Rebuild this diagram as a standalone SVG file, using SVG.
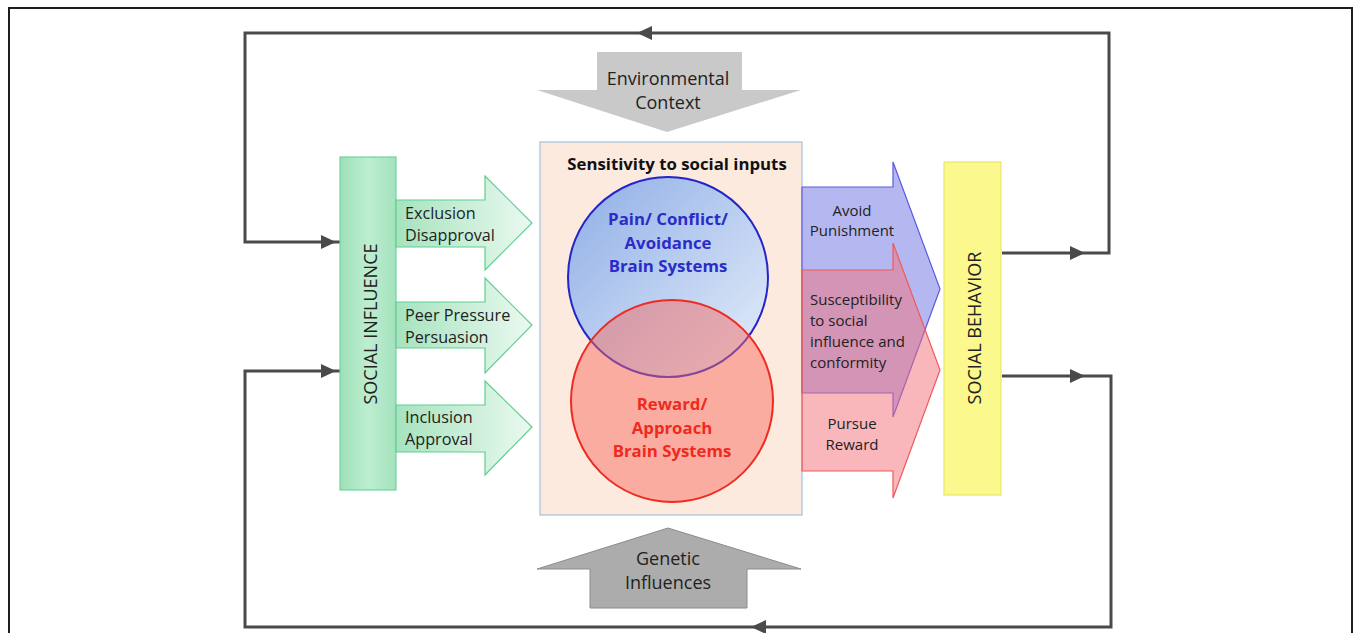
<svg xmlns="http://www.w3.org/2000/svg" width="1354" height="633" viewBox="0 0 1354 633">
<defs>
<style>
text{font-family:"Open Sans","Liberation Sans",sans-serif;fill:#222;}
.lbl{font-size:16.2px;}
.rl{font-size:15px;}
.gl{font-size:18px;text-anchor:middle;}
.bar{font-size:18px;text-anchor:middle;}
.conn{fill:none;stroke:#4a4a4a;stroke-width:3;}
.frame{fill:none;stroke:#1e1e1e;}
.garrow{fill:url(#gGreen);stroke:#5fcf8f;stroke-width:1.2;}
.big{font-size:16.8px;font-weight:bold;text-anchor:middle;}
</style>
<linearGradient id="gGreen" x1="0" y1="0" x2="1" y2="0">
<stop offset="0" stop-color="#a6e3be"/>
<stop offset="1" stop-color="#eaf9f0"/>
</linearGradient>
<linearGradient id="gBar" x1="0" y1="0" x2="1" y2="0">
<stop offset="0" stop-color="#9ee0b8"/>
<stop offset="0.5" stop-color="#bdeed0"/>
<stop offset="1" stop-color="#a4e2bd"/>
</linearGradient>
<linearGradient id="gBlue" x1="0" y1="0" x2="1" y2="1">
<stop offset="0" stop-color="#8eaee6"/>
<stop offset="1" stop-color="#e6eefa"/>
</linearGradient>
</defs>
<rect width="1354" height="633" fill="#ffffff"/>
<g id="frame">
<path class="frame" d="M9,640 V8 H1352 V640" stroke-width="2"/>
</g>
<g id="connectors">
<path class="conn" d="M340,242 H245 V33 H1109 V253 H1002"/>
<path class="conn" d="M340,371 H245 V627 H1111 V376 H1002"/>
<polygon points="336,242 321,235 321,249" fill="#4a4a4a"/>
<polygon points="336,371 321,364 321,378" fill="#4a4a4a"/>
<polygon points="1085,253 1070,246 1070,260" fill="#4a4a4a"/>
<polygon points="1085,376 1070,369 1070,383" fill="#4a4a4a"/>
<polygon points="637,33 652,26 652,40" fill="#4a4a4a"/>
<polygon points="751,627 766,620 766,634" fill="#4a4a4a"/>
</g>
<g id="env-context">
<polygon points="597,52 742,52 742,90 801,90 667,132 537,90 597,90" fill="#c9c9c9"/>
<text class="gl" x="668" y="85">Environmental</text>
<text class="gl" x="668" y="109">Context</text>
</g>
<g id="genetic">
<polygon points="668,528 801,569 747,569 747,608 590,608 590,569 537,569" fill="#acacac" stroke="#8c8c8c" stroke-width="1"/>
<text class="gl" x="668" y="565">Genetic</text>
<text class="gl" x="668" y="589">Influences</text>
</g>
<g id="social-influence">
<rect x="340" y="157" width="56" height="333" fill="url(#gBar)" stroke="#6fd49a" stroke-width="1.2"/>
<text class="bar" x="377" y="324" transform="rotate(-90 377 324)">SOCIAL INFLUENCE</text>
</g>
<g id="arrow-exclusion">
<polygon class="garrow" points="396,200 485,200 485,176 532,223 485,270 485,247 396,247"/>
<text class="lbl" x="405" y="219">Exclusion</text>
<text class="lbl" x="405" y="241">Disapproval</text>
</g>
<g id="arrow-peer">
<polygon class="garrow" points="396,302 485,302 485,278 532,325 485,373 485,348 396,348"/>
<text class="lbl" x="405" y="321">Peer Pressure</text>
<text class="lbl" x="405" y="343">Persuasion</text>
</g>
<g id="arrow-inclusion">
<polygon class="garrow" points="396,405 485,405 485,381 532,427 485,475 485,452 396,452"/>
<text class="lbl" x="405" y="423">Inclusion</text>
<text class="lbl" x="405" y="445">Approval</text>
</g>
<g id="sensitivity">
<rect x="540" y="142" width="262" height="373" fill="#fdeade" stroke="#a6c0e0" stroke-width="1.2"/>
<text x="677" y="170" font-size="16.8" font-weight="bold" text-anchor="middle" style="fill:#111">Sensitivity to social inputs</text>
</g>
<g id="pain-circle">
<circle cx="668" cy="277" r="100" fill="url(#gBlue)" stroke="#2424c8" stroke-width="2"/>
</g>
<g id="reward-circle">
<circle cx="672" cy="401" r="101" fill="#f6685e" fill-opacity="0.48" stroke="#ee2a22" stroke-width="2"/>
<text class="big" x="668" y="225" style="fill:#2b2bc8">Pain/ Conflict/</text>
<text class="big" x="668" y="248.5" style="fill:#2b2bc8">Avoidance</text>
<text class="big" x="668" y="272" style="fill:#2b2bc8">Brain Systems</text>
<text class="big" x="672" y="410" style="fill:#ee2a1e">Reward/</text>
<text class="big" x="672" y="433.5" style="fill:#ee2a1e">Approach</text>
<text class="big" x="672" y="457" style="fill:#ee2a1e">Brain Systems</text>
</g>
<g id="avoid-arrow">
<polygon points="802,187 893,187 893,162 940,289 893,417 893,393 802,393" fill="#b5b8f0" stroke="#5a5ae0" stroke-width="1.2"/>
</g>
<g id="pursue-arrow">
<polygon points="802,270 893,270 893,243 940,370 893,498 893,471 802,471" fill="#f4707a" fill-opacity="0.5" stroke="#f05a5a" stroke-width="1.2"/>
<text class="rl" x="852" y="216" text-anchor="middle">Avoid</text>
<text class="rl" x="852" y="236" text-anchor="middle">Punishment</text>
<text class="rl" x="810" y="305">Susceptibility</text>
<text class="rl" x="810" y="326">to social</text>
<text class="rl" x="810" y="347">influence and</text>
<text class="rl" x="810" y="368">conformity</text>
<text class="rl" x="852" y="429" text-anchor="middle">Pursue</text>
<text class="rl" x="852" y="450" text-anchor="middle">Reward</text>
</g>
<g id="social-behavior">
<rect x="944" y="162" width="57" height="333" fill="#fbf98e" stroke="#ece468" stroke-width="1.2"/>
<text class="bar" x="981" y="328" transform="rotate(-90 981 328)">SOCIAL BEHAVIOR</text>
</g>
</svg>
